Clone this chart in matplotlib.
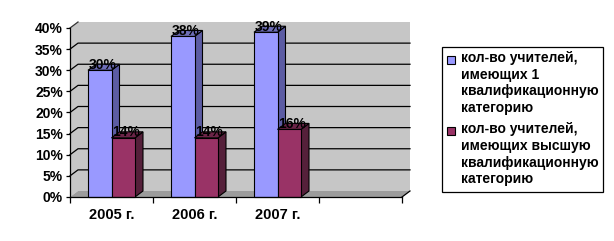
import matplotlib
matplotlib.use("Agg")
import matplotlib.pyplot as plt
from matplotlib.patches import Polygon, Rectangle

plt.rcParams['font.family'] = ['Liberation Sans', 'DejaVu Sans']
plt.rcParams['font.weight'] = 'bold'
plt.rcParams['hatch.linewidth'] = 0.5
plt.rcParams['hatch.color'] = '#8c8c8c'

# data
years = ['2005 г.', '2006 г.', '2007 г.', '']
first_cat = [30, 38, 39]
top_cat = [14, 14, 16]
labels_first = ['30%', '38%', '39%']
labels_top = ['14%', '14%', '16%']
series_names = ['кол-во учителей,\nимеющих 1\nквалификационную\nкатегорию',
                'кол-во учителей,\nимеющих высшую\nквалификационную\nкатегорию']
colors = ['#9999ff', '#993366']
side_colors = ['#5c5ca3', '#55203a']
top_colors = ['#6e6eb8', '#6b2447']

W, H = 614, 241
fig = plt.figure(figsize=(W / 100, H / 100), dpi=100)
ax = fig.add_axes([70 / W, 1 - 197 / H, (402 - 70) / W, (197 - 28) / H])
ax.set_xlim(0, 4)
ax.set_ylim(0, 40)

# depth offset of the pseudo 3D view (data units)
dx = 8 / 83
dy = 6 / (169 / 40)

# walls and floor
ax.add_patch(Polygon([(dx, dy), (4 + dx, dy), (4 + dx, 40 + dy), (dx, 40 + dy)],
                     closed=True, facecolor='#c6c6c6', edgecolor='none',
                     hatch='....', clip_on=False, zorder=0))
ax.add_patch(Polygon([(0, 0), (dx, dy), (dx, 40 + dy), (0, 40)],
                     closed=True, facecolor='#c6c6c6', edgecolor='none',
                     hatch='....', clip_on=False, zorder=0))
ax.add_patch(Polygon([(0, 0), (dx, dy), (4 + dx, dy), (4, 0)],
                     closed=True, facecolor='#9c9c9c', edgecolor='none',
                     clip_on=False, zorder=0.5))
ax.plot([4, 4 + dx], [0, dy], color='black', lw=0.9, clip_on=False, zorder=1)
for g in range(5, 45, 5):
    if g < 40:
        ax.plot([0, dx, 4 + dx], [g, g + dy, g + dy],
                color='black', lw=0.9, clip_on=False, zorder=0.8)
    else:
        ax.plot([0, dx], [g, g + dy], color='#333333', lw=0.9, clip_on=False, zorder=0.8)

# bars
w = 0.283
for si, vals in enumerate([first_cat, top_cat]):
    labs = [labels_first, labels_top][si]
    for i, v in enumerate(vals):
        x0 = i + 0.5 - w + si * w
        z = 2 + i * 2 + si
        ax.add_patch(Polygon([(x0 + w, 0), (x0 + w + dx, dy), (x0 + w + dx, v + dy), (x0 + w, v)],
                             closed=True, facecolor=side_colors[si], edgecolor='black',
                             lw=0.8, clip_on=False, zorder=z))
        ax.add_patch(Polygon([(x0, v), (x0 + dx, v + dy), (x0 + w + dx, v + dy), (x0 + w, v)],
                             closed=True, facecolor=top_colors[si], edgecolor='black',
                             lw=0.8, clip_on=False, zorder=z))
        ax.add_patch(Polygon([(x0, 0), (x0, v), (x0 + w, v), (x0 + w, 0)],
                             closed=True, facecolor=colors[si], edgecolor='black',
                             lw=0.8, clip_on=False, zorder=z))
        ax.text(x0 + w / 2 + dx / 3, v + dy * 0.9, labs[i], ha='center', va='center',
                fontsize=10, fontweight='bold', color='black', zorder=20, clip_on=False)

# axes
for s in ['top', 'right']:
    ax.spines[s].set_visible(False)
ax.spines['left'].set_linewidth(0.9)
ax.spines['bottom'].set_linewidth(0.9)
ax.spines['left'].set_zorder(15)
ax.spines['bottom'].set_zorder(15)
ax.set_yticks(range(0, 45, 5))
ax.set_yticklabels([f'{t}%' for t in range(0, 45, 5)])
ax.set_xticks(range(0, 5))
ax.set_xticklabels([])
ax.set_xticks([0.5, 1.5, 2.5, 3.5], minor=True)
ax.set_xticklabels(years, minor=True)
ax.tick_params(axis='x', which='minor', length=0, pad=8, labelsize=10.5)
ax.tick_params(axis='x', which='major', length=4, width=0.9, direction='out')
ax.tick_params(axis='y', length=3, width=0.9, pad=2, labelsize=10)
ax.set_facecolor('none')

# legend drawn by hand so the square sits at the first text line
def px(x, y):
    return x / W, 1 - y / H

fig.patches.append(Rectangle(px(442, 192), 161 / W, 145 / H, transform=fig.transFigure,
                             facecolor='white', edgecolor='black', lw=0.9))
for k, name in enumerate(series_names):
    top = 51 + k * 71
    fig.patches.append(Rectangle(px(447, top + 13), 8 / W, 8 / H, transform=fig.transFigure,
                                 facecolor=colors[k], edgecolor='black', lw=0.8))
    fig.text(*px(461, top), name, ha='left', va='top', fontsize=10,
             fontweight='bold', linespacing=1.25)

fig.savefig('out.png', dpi=100)
